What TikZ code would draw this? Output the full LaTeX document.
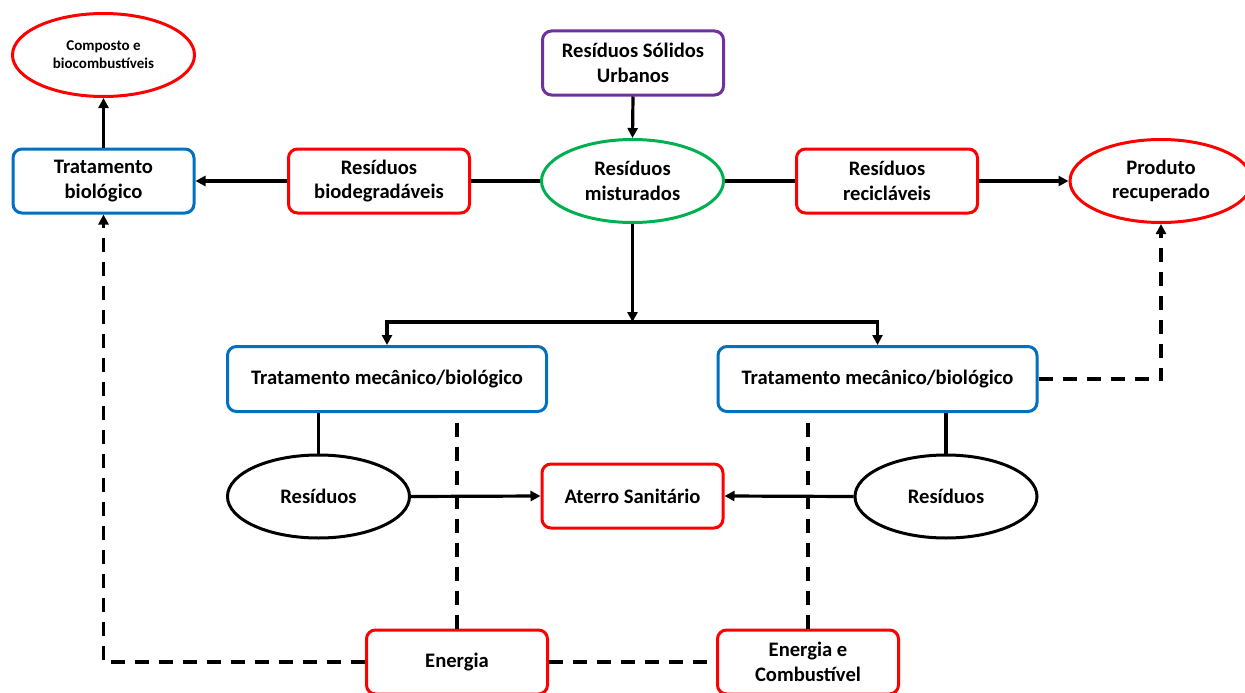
\documentclass[tikz,border=0pt]{standalone}
\usepackage{fontspec}
\setmainfont{Carlito}
\usetikzlibrary{shapes.geometric,arrows.meta}
\definecolor{cred}{RGB}{255,0,0}
\definecolor{cblue}{RGB}{0,112,192}
\definecolor{cpurple}{RGB}{112,48,160}
\definecolor{cgreen}{RGB}{0,176,80}
\begin{document}
\begin{tikzpicture}[x=1pt,y=-1pt,
  rbox/.style={draw,rounded corners=9pt,line width=3pt,inner sep=0pt,align=center,
    font=\bfseries\fontsize{20.6}{24.5}\selectfont,minimum width=181pt,minimum height=64pt},
  ell/.style={draw,ellipse,line width=3pt,inner sep=0pt,align=center,
    font=\bfseries\fontsize{20.6}{24.5}\selectfont,minimum width=182pt,minimum height=83pt},
  arr/.style={line width=3.2pt,-{Triangle[length=10pt,width=10pt]}},
  ln/.style={line width=3.2pt},
  dsh/.style={line width=3.2pt,dash pattern=on 14pt off 10pt},
  darr/.style={dsh,-{Triangle[length=10pt,width=10pt]}}]
\useasboundingbox (0,0) rectangle (1245,693);
\clip (0,0) rectangle (1245,693);
\fill[white] (0,0) rectangle (1245,693);
% nodes
\node[rbox,draw=cblue] (tb) at (103.5,181) {Tratamento\\biológico};
\node[ell,draw=cred,font=\bfseries\fontsize{15}{18}\selectfont] (comp) at (103.5,55) {Composto e\\biocombustíveis};
\node[rbox,draw=cred] (bio) at (379,181) {Resíduos\\biodegradáveis};
\node[rbox,draw=cpurple] (rsu) at (633,63) {Resíduos Sólidos\\Urbanos};
\node[ell,draw=cgreen] (mist) at (632.5,181) {Resíduos\\misturados};
\node[rbox,draw=cred] (rec) at (887,181) {Resíduos\\recicláveis};
\node[ell,draw=cred] (prod) at (1161,181) {Produto\\recuperado};
\node[rbox,draw=cblue,minimum width=319pt,minimum height=65pt] (tmbL) at (387,379) {Tratamento mecânico/biológico};
\node[rbox,draw=cblue,minimum width=319pt,minimum height=65pt] (tmbR) at (877.5,379) {Tratamento mecânico/biológico};
\node[ell,draw=black] (resL) at (318.5,496.5) {Resíduos};
\node[rbox,draw=cred] (at) at (632.5,496) {Aterro Sanitário};
\node[ell,draw=black] (resR) at (946,496.5) {Resíduos};
\node[rbox,draw=cred] (en) at (457,662) {Energia};
\node[rbox,draw=cred] (enc) at (808,662) {Energia e\\Combustível};
\coordinate (split) at (632.5,322);
% connectors
\draw[arr] (rsu.south) -- (mist.north);
\draw[ln] (mist.west) -- (bio.east);
\draw[arr] (bio.west) -- (tb.east);
\draw[arr] (tb.north) -- (comp.south);
\draw[ln] (mist.east) -- (rec.west);
\draw[arr] (rec.east) -- (prod.west);
\draw[arr] (mist.south) -- (split);
\draw[arr] (split) -| (tmbL.north);
\draw[arr] (split) -| (tmbR.north);
\draw[ln] (resL.north) -- (resL.north |- tmbL.south);
\draw[ln] (resR.north) -- (resR.north |- tmbR.south);
\draw[arr] (resL.east) -- (at.west);
\draw[arr] (resR.west) -- (at.east);
\draw[dsh] (en.north) -- (en.north |- tmbL.south);
\draw[dsh] (enc.north) -- (enc.north |- tmbR.south);
\draw[darr] (en.west) -| (tb.south);
\draw[dsh] (en.east) -- (enc.west);
\draw[darr] (tmbR.east) -| (prod.south);
\end{tikzpicture}
\end{document}
